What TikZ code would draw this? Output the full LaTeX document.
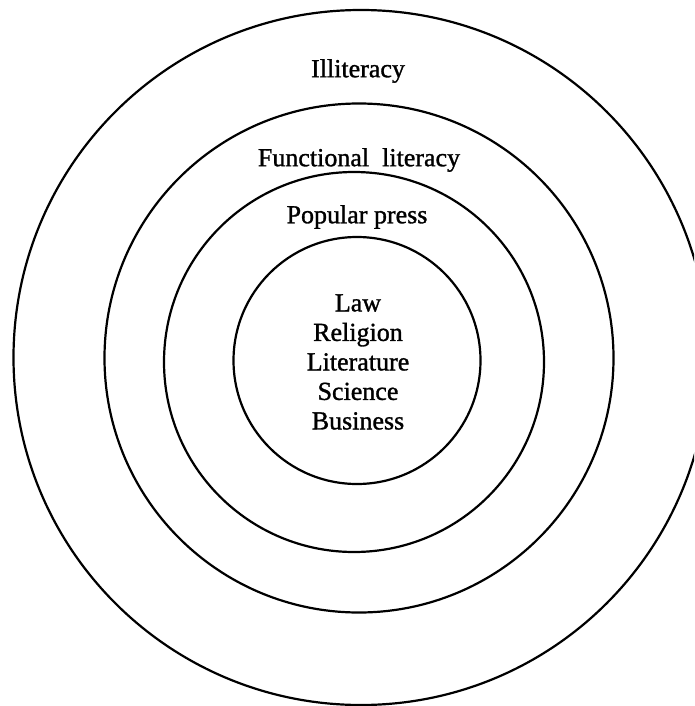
\documentclass[tikz,border=0pt]{standalone}
\usepackage{fontspec}
\setmainfont{Liberation Serif}
\newfontfamily\ringfont[FakeBold=1.2]{Liberation Serif}
\usepackage{tikz}

\begin{document}
\begin{tikzpicture}[x=1pt, y=-1pt,
    ring/.style={draw=black, line width=2.2pt, circle, inner sep=0pt, outer sep=0pt},
    ringlabel/.style={font=\ringfont\fontsize{26}{29.5}\selectfont, inner sep=0pt, align=center}]
  \useasboundingbox (0,0) rectangle (694,706);
  \clip (0,0) rectangle (694,706);

  % the four rings, outer to inner
  \node[ring, minimum size=695pt] (illit) at (361,357.5) {};
  \node[ring, minimum size=509pt] (func) at (359,358) {};
  \node[ring, minimum size=380pt] (popular) at (354,362) {};
  \node[ring, minimum size=247pt] (core) at (357,360.5) {};

  % labels
  \node[ringlabel] (illitlabel) at (358,71) {Illiteracy};
  \node[ringlabel] (funclabel) at (359,160) {Functional\ \ literacy};
  \node[ringlabel] (poplabel) at (357,217) {Popular press};
  \node[ringlabel] (corelabel) at (358,362) {%
    Law\\ Religion\\ Literature\\ Science\\ Business};
\end{tikzpicture}
\end{document}
